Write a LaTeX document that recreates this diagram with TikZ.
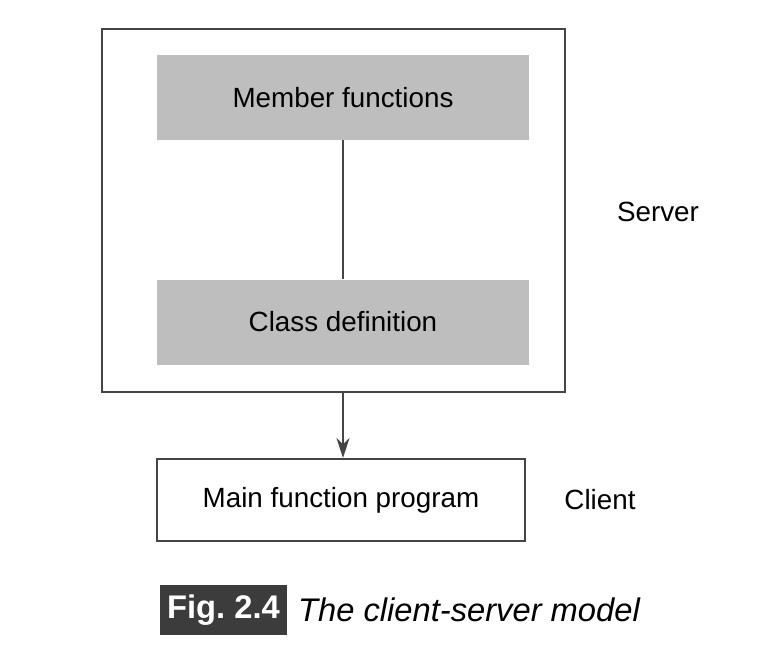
\documentclass[tikz,border=0pt]{standalone}
\usepackage{fontspec}
\setmainfont{Liberation Sans}
\usetikzlibrary{arrows.meta}
\definecolor{boxgray}{HTML}{BEBEBE}
\definecolor{linegray}{HTML}{454545}
\definecolor{figgray}{HTML}{3C3C3C}
\begin{document}
\begin{tikzpicture}[x=1pt,y=-1pt,
  shadedbox/.style={fill=boxgray,minimum width=372pt,minimum height=85pt,inner sep=0pt},
  plainbox/.style={draw=linegray,line width=2pt,inner sep=0pt},
  lbl/.style={font=\fontsize{27.8}{33}\selectfont}]
\useasboundingbox (0,0) rectangle (774,653);
% server part
\node [plainbox,minimum width=463pt,minimum height=363pt] (server) at (333.5,210.5) {};
\node [shadedbox,lbl] (member) at (343,97.5) {Member functions};
\node [shadedbox,lbl] (classdef) at (343,322) {Class definition};
\node [lbl] (serverlbl) at (658,212) {Server};
% client part
\node [plainbox,lbl,minimum width=368pt,minimum height=82pt] (client) at (341,500) {Main function program};
\node [lbl] (clientlbl) at (600,500) {Client};
% connectors
\draw [linegray,line width=1.5pt] (member.south) -- (classdef.north);
\draw [linegray,line width=1.5pt,-{Stealth[length=20pt,width=13pt]}] (classdef.south |- server.south) -- (classdef.south |- client.north);
% caption
\node [fill=figgray,text=white,font=\fontsize{32.7}{38}\selectfont\bfseries,minimum width=127pt,minimum height=50pt,inner sep=0pt] (fignum) at (223.5,610) {Fig.\ 2.4};
\node [anchor=west,inner sep=0pt,font=\fontsize{32.7}{38}\selectfont\itshape] (figtext) at (298,610) {The client-server model};
\end{tikzpicture}
\end{document}
